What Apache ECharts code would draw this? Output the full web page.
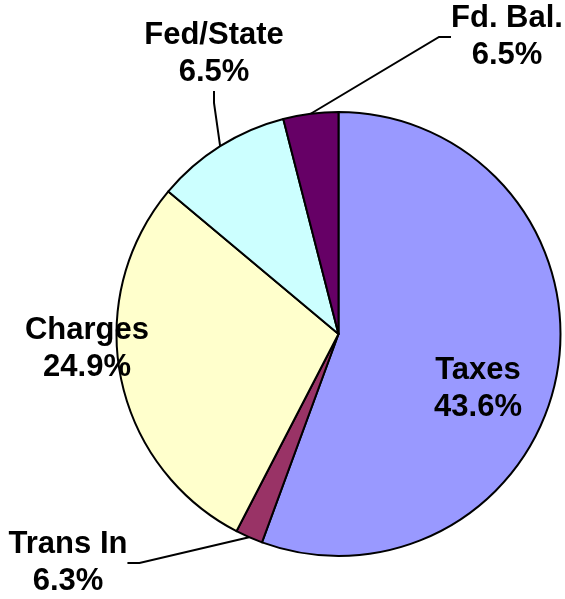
<!DOCTYPE html>
<html>
<head>
<meta charset="utf-8">
<script src="https://cdn.jsdelivr.net/npm/echarts@6/dist/echarts.min.js"></script>
<style>
  html, body { margin: 0; padding: 0; background: #fff; }
  #chart { width: 565px; height: 599px; }
</style>
</head>
<body>
<div id="chart"></div>
<script>
// slice names, visual shares and the printed labels
const categories = ['Taxes', 'Trans In', 'Charges', 'Fed/State', 'Fd. Bal.'];
const sliceShares = [55.6, 2.0, 28.5, 9.9, 4.0];
const labelPercents = ['43.6%', '6.3%', '24.9%', '6.5%', '6.5%'];
const sliceColors = ['#9999FF', '#993366', '#FFFFCC', '#CCFFFF', '#660066'];

// where each label sits (text block centre)
const labelSpots = [[478, 389], [68, 563], [87, 349], [214, 54], [507, 37]];
const insideLabel = [true, false, true, false, false];

var myChart = echarts.init(document.getElementById('chart'));

var option = {
  animation: false,
  series: [{
    type: 'pie',
    center: [338.5, 334],
    radius: 222,
    startAngle: 90,
    clockwise: true,
    avoidLabelOverlap: false,
    itemStyle: { borderColor: '#000', borderWidth: 2 },
    label: {
      color: '#000',
      fontFamily: 'Liberation Sans, Arial, sans-serif',
      fontWeight: 'bold',
      fontSize: 31,
      lineHeight: 37,
      align: 'center',
      verticalAlign: 'middle',
      formatter: p => p.name + '\n' + labelPercents[p.dataIndex]
    },
    labelLine: {
      show: true,
      length: 10,
      length2: 12,
      lineStyle: { color: '#000', width: 2 }
    },
    labelLayout: p => ({
      x: labelSpots[p.dataIndex][0],
      y: labelSpots[p.dataIndex][1],
      align: 'center',
      verticalAlign: 'middle'
    }),
    data: categories.map((name, i) => ({
      name: name,
      value: sliceShares[i],
      itemStyle: { color: sliceColors[i] },
      label: { position: insideLabel[i] ? 'inside' : 'outside' },
      labelLine: { show: !insideLabel[i] }
    }))
  }]
};

option && myChart.setOption(option);
</script>
</body>
</html>
